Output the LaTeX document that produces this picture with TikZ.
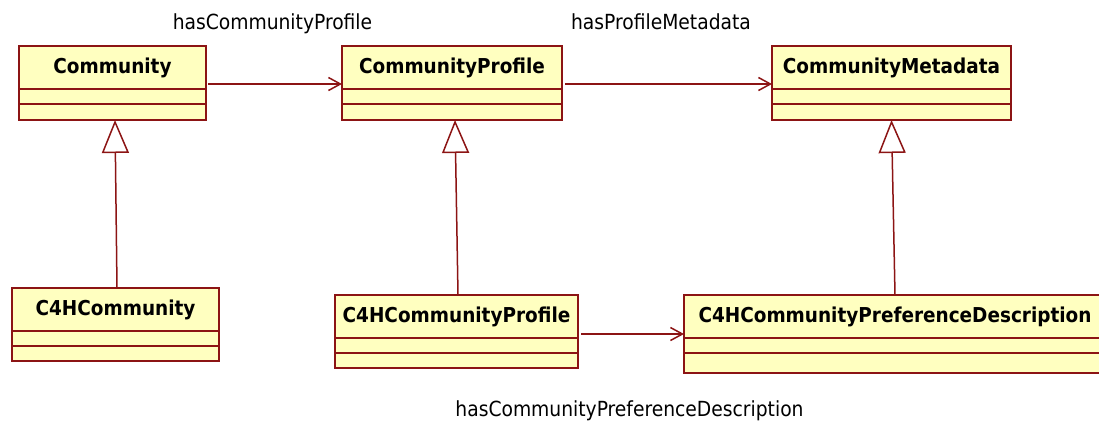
\documentclass[tikz,border=0pt]{standalone}
\usepackage{fontspec}
\setmainfont{DejaVu Sans Condensed}
\usetikzlibrary{arrows.meta}

\definecolor{umlline}{RGB}{140,20,20}
\definecolor{umlfill}{RGB}{255,255,192}

\tikzset{
  classhead/.style={draw=umlline, fill=umlfill, line width=1.5pt, inner sep=0pt, outer sep=0pt,
    minimum height=43pt, anchor=north, font=\fontsize{20.5}{24}\selectfont\bfseries},
  classpart/.style={draw=umlline, fill=umlfill, line width=1.5pt, inner sep=0pt, outer sep=0pt, anchor=north},
  assoc/.style={draw=umlline, line width=1.5pt, -{Straight Barb[length=12pt,width=13pt]}},
  inherit/.style={draw=umlline, line width=1.5pt, -{Triangle[open,fill=white,length=33pt,width=27pt]}},
  assoclabel/.style={font=\fontsize{20.8}{24}\selectfont, inner sep=0pt, anchor=base},
}

% name, top centre, width, title, height of last compartment
\newcommand{\umlclass}[5]{
  \node[classhead, minimum width=#3] (#1) at (#2) {#4};
  \node[classpart, minimum width=#3, minimum height=15pt] (#1-attr) at (#1.south) {};
  \node[classpart, minimum width=#3, minimum height=#5] (#1-ops) at (#1-attr.south) {};
}

\begin{document}
\begin{tikzpicture}[x=1pt, y=-1pt]
\useasboundingbox (0,0) rectangle (1099,421);

% upper row
\umlclass{community}{112.5,46}{187pt}{Community}{16pt}
\umlclass{profile}{452,46}{220pt}{CommunityProfile}{16pt}
\umlclass{metadata}{891.5,46}{239pt}{CommunityMetadata}{16pt}

% lower row
\umlclass{c4hcommunity}{115.5,288}{207pt}{C4HCommunity}{15pt}
\umlclass{c4hprofile}{456.5,295}{243pt}{C4HCommunityProfile}{15pt}
\umlclass{c4hpref}{895,295}{422pt}{C4HCommunityPreferenceDescription}{20pt}

% associations
\draw[assoc] ([shift={(2pt,5pt)}]community.south east) -- ([yshift=5pt]profile.south west);
\draw[assoc] ([shift={(3pt,5pt)}]profile.south east) -- ([yshift=5pt]metadata.south west);
\draw[assoc] ([shift={(3pt,4pt)}]c4hprofile.south east) -- ([yshift=4pt]c4hpref.south west);

\node[assoclabel] (lblprofile) at (272.5,29) {hasCommunityProfile};
\node[assoclabel] (lblmetadata) at (661,29) {hasProfileMetadata};
\node[assoclabel] (lblpref) at (629.5,416) {hasCommunityPreferenceDescription};

% generalisations
\draw[inherit] ([xshift=1.5pt]c4hcommunity.north) -- ([xshift=2.5pt]community-ops.south);
\draw[inherit] ([xshift=1.5pt]c4hprofile.north) -- ([xshift=3pt]profile-ops.south);
\draw[inherit] (c4hpref.north) -- (metadata-ops.south);
\end{tikzpicture}
\end{document}
